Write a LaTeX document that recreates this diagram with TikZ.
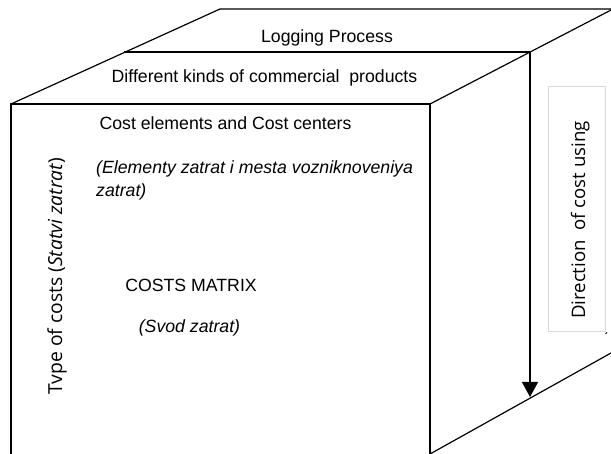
\documentclass[tikz,border=0pt]{standalone}
\usepackage{fontspec}
\setmainfont{Liberation Sans}
\newfontfamily\humanist{Open Sans}
\usetikzlibrary{arrows.meta}
\begin{document}
\begin{tikzpicture}[x=1pt,y=-1pt,
  edge/.style={line width=1.2pt,line join=miter},
  label/.style={inner sep=0pt,font=\fontsize{17.7}{20}\selectfont},
  ilabel/.style={label,font=\fontsize{17.7}{20}\selectfont\itshape},
  sidelabel/.style={inner sep=0pt,rotate=90,anchor=base,font=\humanist\fontsize{19.3}{22}\selectfont}]
\useasboundingbox (0,0) rectangle (611,454);
\clip (0,0) rectangle (611,454);

% corners of the box
\coordinate (ftl) at (11,104);   % front top left
\coordinate (ftr) at (430,104);  % front top right
\coordinate (fbl) at (11,460);   % front bottom left
\coordinate (fbr) at (430,454);  % front bottom right
\coordinate (btl) at (220,9);    % back top left
\coordinate (btr) at (613,9);    % back top right
\coordinate (mtl) at (124,52);   % middle layer, left
\coordinate (mtr) at (530,52);   % middle layer, right
\coordinate (bre) at (620,348);  % bottom right edge, far end
\coordinate (tip) at (530,397);  % where the arrow meets the bottom edge

% front face
\draw[edge] (fbl) -- (ftl) -- (ftr) -- (fbr);
% top face
\draw[edge] (ftl) -- (btl) -- (btr) -- (ftr);
\draw[edge] (mtl) -- (mtr);
% right side, bottom edge
\draw[edge] (fbr) -- (bre);
% direction arrow
\draw[edge,-{Triangle[length=15pt,width=16pt]}] (mtr) -- (tip);
% small tick at the far right
\draw[line width=0.8pt] (605.5,334) -- (607,332.5);

% texts on the top face
\node[label,anchor=base] (lp) at (327,43) {Logging Process};
\node[label,anchor=base] (dk) at (264.5,83) {Different kinds of commercial\ \ products};

% texts on the front face
\node[label,anchor=base] (ce) at (225.5,130) {Cost elements and Cost centers};
\node[ilabel,anchor=base west] (el1) at (96,174) {(Elementy zatrat i mesta vozniknoveniya};
\node[ilabel,anchor=base west] (el2) at (96,197) {zatrat)};
\node[label,anchor=base] (cm) at (191,292) {COSTS MATRIX};
\node[ilabel,anchor=base] (sv) at (189.5,333) {(Svod zatrat)};

% rotated side labels
\node[sidelabel] (tc) at (62,276) {Tvpe of costs (\textit{Statvi zatrat})};
\draw[draw=black!15,line width=0.8pt,fill=white] (548,86) rectangle (605,331);
\node[sidelabel,font=\humanist\fontsize{18.6}{21}\selectfont] (dir) at (585,220) {Direction\ \ of cost using};
\end{tikzpicture}
\end{document}
